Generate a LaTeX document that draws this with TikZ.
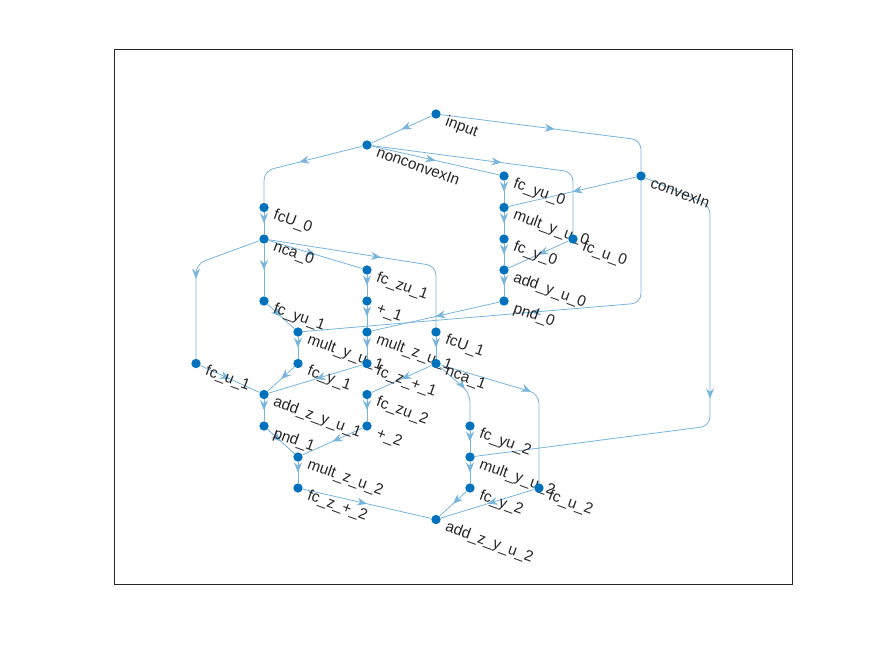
\documentclass[tikz,border=0pt]{standalone}
\usepackage{fontspec}
\setmainfont{Liberation Sans}
\usetikzlibrary{arrows.meta,decorations.markings,backgrounds}

\definecolor{nodeblue}{RGB}{0,114,189}
\definecolor{edgeblue}{RGB}{120,180,220}
\definecolor{textgray}{RGB}{38,38,38}

\tikzset{>=Stealth}

\begin{document}
\begin{tikzpicture}[x=0.75pt, y=-0.75pt]
	\tikzstyle{vertex} = [circle, fill=nodeblue, inner sep=0pt, minimum size=7pt]
	\tikzstyle{link} = [color=edgeblue, draw, line width=0.6pt, rounded corners=7pt,
		postaction={decorate}, decoration={markings,
		mark=at position 0.5 with {\arrow{Stealth[length=7.5pt, width=6pt, inset=2.5pt]}}}]
	\tikzstyle{tag} = [rotate=-20, anchor=base west, inner sep=0pt, text=textgray,
		yshift=0.75pt, font=\fontsize{11.5}{13}\selectfont]

	\useasboundingbox (0,0) rectangle (875,657);
	\draw[textgray, line width=0.75pt] (114,49) rectangle (792,584);

%----------nodes------------------------------
	\node[vertex] (input) at (436,114) {};
	\node[tag] at (444,126) {input};
	\node[vertex] (nonconvexIn) at (367,145) {};
	\node[tag] at (375,157) {nonconvexIn};
	\node[vertex] (convexIn) at (641,176) {};
	\node[tag] at (649,188) {convexIn};
	\node[vertex] (fcyu0) at (504,176) {};
	\node[tag] at (512,188) {fc\_yu\_0};
	\node[vertex] (fcU0) at (264,207.5) {};
	\node[tag] at (272,219.5) {fcU\_0};
	\node[vertex] (multyu0) at (504,207.5) {};
	\node[tag] at (512,219.5) {mult\_y\_u\_0};
	\node[vertex] (nca0) at (264,239) {};
	\node[tag] at (272,251) {nca\_0};
	\node[vertex] (fcy0) at (504,239) {};
	\node[tag] at (512,251) {fc\_y\_0};
	\node[vertex] (fcu0) at (573,239) {};
	\node[tag] at (581,251) {fc\_u\_0};
	\node[vertex] (addyu0) at (504,270) {};
	\node[tag] at (512,282) {add\_y\_u\_0};
	\node[vertex] (fczu1) at (367,270) {};
	\node[tag] at (375,282) {fc\_zu\_1};
	\node[vertex] (fcyu1) at (264,301) {};
	\node[tag] at (272,313) {fc\_yu\_1};
	\node[vertex] (plus1) at (367,301) {};
	\node[tag] at (375,313) {+\_1};
	\node[vertex] (pnd0) at (504,301) {};
	\node[tag] at (512,313) {pnd\_0};
	\node[vertex] (multyu1) at (298,332) {};
	\node[tag] at (306,344) {mult\_y\_u\_1};
	\node[vertex] (multzu1) at (367,332) {};
	\node[tag] at (375,344) {mult\_z\_u\_1};
	\node[vertex] (fcU1) at (436,332) {};
	\node[tag] at (444,344) {fcU\_1};
	\node[vertex] (fcu1) at (196,363.5) {};
	\node[tag] at (204,375.5) {fc\_u\_1};
	\node[vertex] (fcy1) at (298,363.5) {};
	\node[tag] at (306,375.5) {fc\_y\_1};
	\node[vertex] (fczp1) at (367,363.5) {};
	\node[tag] at (375,375.5) {fc\_z\_+\_1};
	\node[vertex] (nca1) at (436,363.5) {};
	\node[tag] at (444,375.5) {nca\_1};
	\node[vertex] (addzyu1) at (264,394.5) {};
	\node[tag] at (272,406.5) {add\_z\_y\_u\_1};
	\node[vertex] (fczu2) at (367,394.5) {};
	\node[tag] at (375,406.5) {fc\_zu\_2};
	\node[vertex] (pnd1) at (264,426) {};
	\node[tag] at (272,438) {pnd\_1};
	\node[vertex] (plus2) at (367,426) {};
	\node[tag] at (375,438) {+\_2};
	\node[vertex] (fcyu2) at (470,426) {};
	\node[tag] at (478,438) {fc\_yu\_2};
	\node[vertex] (multzu2) at (298,457) {};
	\node[tag] at (306,469) {mult\_z\_u\_2};
	\node[vertex] (multyu2) at (470,457) {};
	\node[tag] at (478,469) {mult\_y\_u\_2};
	\node[vertex] (fczp2) at (298,488) {};
	\node[tag] at (306,500) {fc\_z\_+\_2};
	\node[vertex] (fcy2) at (470,488) {};
	\node[tag] at (478,500) {fc\_y\_2};
	\node[vertex] (fcu2) at (539,488) {};
	\node[tag] at (547,500) {fc\_u\_2};
	\node[vertex] (addzyu2) at (436,519.5) {};
	\node[tag] at (444,531.5) {add\_z\_y\_u\_2};

\begin{pgfonlayer}{background}
%----------inputs------------------------------
	\path[link] (input) -- (nonconvexIn);
	\path[link] (input) -- (641,140) -- (convexIn);
	\path[link] (nonconvexIn) -- (264,171) -- (fcU0);
	\path[link] (nonconvexIn) -- (fcyu0);
	\path[link] (nonconvexIn) -- (573,172) -- (fcu0);
	\path[link] (convexIn) -- (multyu0);
	\path[link] (convexIn) -- (641,303) -- (multyu1);
	\path[link] (convexIn) -- (710,205) -- (710,426) -- (multyu2);

%----------block 0------------------------------
	\path[link] (fcyu0) -- (multyu0);
	\path[link] (multyu0) -- (fcy0);
	\path[link] (fcy0) -- (addyu0);
	\path[link] (fcu0) -- (addyu0);
	\path[link] (addyu0) -- (pnd0);
	\path[link] (pnd0) -- (multzu1);
	\path[link] (fcU0) -- (nca0);

%----------block 1------------------------------
	\path[link] (nca0) -- (fcyu1);
	\path[link] (nca0) -- (fczu1);
	\path[link] (nca0) -- (436,266) -- (fcU1);
	\path[link] (nca0) -- (196,264) -- (fcu1);
	\path[link] (fczu1) -- (plus1);
	\path[link] (plus1) -- (multzu1);
	\path[link] (fcyu1) -- (multyu1);
	\path[link] (multyu1) -- (fcy1);
	\path[link] (multzu1) -- (fczp1);
	\path[link] (fcU1) -- (nca1);
	\path[link] (fcy1) -- (addzyu1);
	\path[link] (fczp1) -- (addzyu1);
	\path[link] (fcu1) -- (addzyu1);
	\path[link] (addzyu1) -- (pnd1);

%----------block 2------------------------------
	\path[link] (nca1) -- (fczu2);
	\path[link] (nca1) -- (470,393) -- (fcyu2);
	\path[link] (nca1) -- (539,394) -- (fcu2);
	\path[link] (fczu2) -- (plus2);
	\path[link] (plus2) -- (multzu2);
	\path[link] (pnd1) -- (multzu2);
	\path[link] (multzu2) -- (fczp2);
	\path[link] (fcyu2) -- (multyu2);
	\path[link] (multyu2) -- (fcy2);
	\path[link] (fczp2) -- (addzyu2);
	\path[link] (fcy2) -- (addzyu2);
	\path[link] (fcu2) -- (addzyu2);
\end{pgfonlayer}
\end{tikzpicture}
\end{document}
